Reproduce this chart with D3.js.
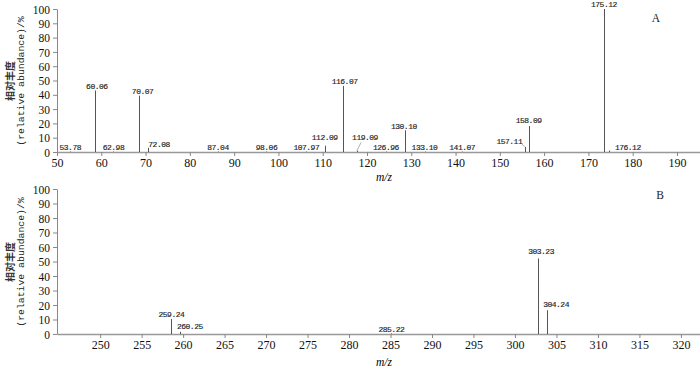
<!DOCTYPE html>
<meta charset="utf-8">
<script src="https://d3js.org/d3.v7.min.js"></script>
<style>
  body { margin: 0; background: #fff; }
  .tick text { font-family: "Liberation Serif", serif; font-size: 11.5px; fill: #111; }
  .xax .tick text { font-size: 12px; }
  .peak-lbl { font-family: "Liberation Mono", monospace; font-size: 8px; letter-spacing: -0.5px; fill: #222; stroke: #222; stroke-width: 0.15px; }
</style>
<div id="chart"></div>
<script>
// ---- data: spectrum A ----
var mzA = [53.0, 58.47, 62.75, 68.47, 70.5, 86.35, 97.3, 106.3, 110.5, 114.67, 117.7, 124.27, 128.6, 132.99, 141.5, 155.6, 156.6, 173.6, 174.7];
var intA = [0.3, 43, 0.3, 39.4, 3, 0.3, 0.3, 0.3, 4.4, 46.2, 0.9, 0.3, 15.2, 0.3, 0.3, 3.5, 18.2, 100, 1];
var lblA = ["53.78", "60.06", "62.98", "70.07", "72.08", "87.04", "98.06", "107.97", "112.09", "116.07", "119.09", "126.96", "130.10", "133.10", "141.07", "157.11", "158.09", "175.12", "176.12"];
var ticksA = [50, 60, 70, 80, 90, 100, 110, 120, 130, 140, 150, 160, 170, 180, 190];

// ---- data: spectrum B ----
var mzB = [258.55, 259.6, 285.1, 302.8, 303.8];
var intB = [10.4, 1.5, 0.4, 52.1, 16.4];
var lblB = ["259.24", "260.25", "285.22", "303.23", "304.24"];
var ticksB = [250, 255, 260, 265, 270, 275, 280, 285, 290, 295, 300, 305, 310, 315, 320];

var yTicks = [0, 10, 20, 30, 40, 50, 60, 70, 80, 90, 100];

// label anchor points (m/z, abundance) where each peak label sits
var labelAtA = [[53.0, 1.4], [59.0, 44], [62.75, 1.4], [69.33, 40.6], [73.05, 3.5], [86.35, 1.4], [97.3, 1.4], [106.3, 1.4], [110.45, 8.4], [114.95, 47.9], [119.55, 8.4], [124.27, 1.4], [128.32, 16.4], [132.99, 1.4], [141.5, 1.4], [152.14, 5.6], [156.5, 20.5], [173.5, 101.6], [178.9, 1.4]];
var labelAtB = [[258.59, 11.7], [260.81, 3.2], [285.1, 1.4], [303.14, 55.1], [304.95, 18.5]];
// leader lines from label to a small peak
var leadersA = [[[118.7, 6.8], [117.7, 0.9]], [[155.0, 5.6], [155.6, 3.5]]];

var W = 700, H = 369;
var svg = d3.select("#chart").append("svg")
  .attr("width", W).attr("height", H);

function panel(cfg) {
  var x = d3.scaleLinear().domain(cfg.xDomain).range([57, 700]);
  var y = d3.scaleLinear().domain([0, 100]).range(cfg.yRange);
  var g = svg.append("g");

  // y axis
  var ya = g.append("g")
    .attr("transform", "translate(57,0)")
    .call(d3.axisLeft(y).tickValues(yTicks).tickSize(4).tickPadding(3).tickSizeOuter(0));
  ya.select(".domain").attr("stroke", "#888");
  ya.selectAll(".tick line").attr("stroke", "#888");
  ya.selectAll(".tick text").attr("dy", "0.36em");

  // x axis
  var xa = g.append("g")
    .attr("class", "xax")
    .attr("transform", "translate(0," + cfg.yRange[0] + ")")
    .call(d3.axisBottom(x).tickValues(cfg.ticks).tickSize(4).tickPadding(2).tickSizeOuter(0));
  xa.select(".domain").attr("stroke", "#999").attr("stroke-width", 1.6);
  xa.selectAll(".tick line").attr("stroke", "#888");

  // peaks
  g.selectAll("line.peak")
    .data(cfg.mz)
    .enter().append("line")
      .attr("class", "peak")
      .attr("x1", function(d) { return Math.round(x(d)) + 0.5; })
      .attr("x2", function(d) { return Math.round(x(d)) + 0.5; })
      .attr("y1", y(0))
      .attr("y2", function(d, i) { return y(cfg.inten[i]); })
      .attr("stroke", "#555")
      .attr("stroke-width", 1);

  // leader lines
  g.selectAll("line.leader")
    .data(cfg.leaders)
    .enter().append("line")
      .attr("class", "leader")
      .attr("x1", function(d) { return x(d[0][0]); })
      .attr("y1", function(d) { return y(d[0][1]); })
      .attr("x2", function(d) { return x(d[1][0]); })
      .attr("y2", function(d) { return y(d[1][1]); })
      .attr("stroke", "#999")
      .attr("stroke-width", 0.8);

  // peak labels
  g.selectAll("text.peak-lbl")
    .data(cfg.labels)
    .enter().append("text")
      .attr("class", "peak-lbl")
      .attr("text-anchor", "middle")
      .attr("x", function(d, i) { return x(cfg.labelAt[i][0]); })
      .attr("y", function(d, i) { return y(cfg.labelAt[i][1]); })
      .text(function(d) { return d; });

  // x title
  g.append("text")
    .attr("x", 384).attr("y", cfg.titleY)
    .attr("text-anchor", "middle")
    .style("font-family", "Liberation Serif, serif")
    .style("font-style", "italic")
    .style("font-size", "11.5px")
    .text("m/z");

  // y title (two rotated lines)
  var cy = (cfg.yRange[0] + cfg.yRange[1]) / 2 + 0.5;
  g.append("text")
    .attr("transform", "translate(14," + cy + ") rotate(-90)")
    .attr("text-anchor", "middle")
    .style("font-family", "Noto Sans CJK SC, sans-serif")
    .style("font-size", "10px")
    .style("font-weight", "bold")
    .style("fill", "#333")
    .text("相对丰度");
  g.append("text")
    .attr("transform", "translate(24," + cy + ") rotate(-90)")
    .attr("text-anchor", "middle")
    .style("font-family", "Liberation Mono, monospace")
    .style("font-size", "9.8px")
    .style("fill", "#222")
    .text("(relative abundance)/%");

  // panel letter
  g.append("text")
    .attr("x", cfg.tag[0]).attr("y", cfg.tag[1])
    .attr("text-anchor", "middle")
    .style("font-family", "Liberation Serif, serif")
    .style("font-size", "11.5px")
    .style("fill", "#222")
    .text(cfg.tagText);
}

panel({
  xDomain: [50, 195.2], yRange: [152, 9], ticks: ticksA,
  mz: mzA, inten: intA, labels: lblA, labelAt: labelAtA, leaders: leadersA,
  titleY: 181, tag: [656, 22], tagText: "A"
});
panel({
  xDomain: [244.8, 322.3], yRange: [334, 189], ticks: ticksB,
  mz: mzB, inten: intB, labels: lblB, labelAt: labelAtB, leaders: [],
  titleY: 366, tag: [660, 199], tagText: "B"
});
</script>
